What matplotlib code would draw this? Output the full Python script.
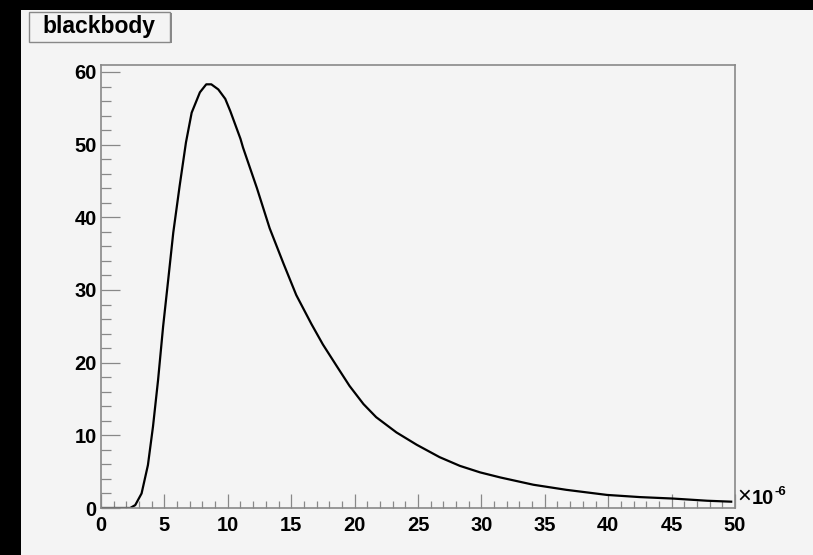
import matplotlib
matplotlib.use("Agg")
import matplotlib.pyplot as plt
from matplotlib.patches import Rectangle
from matplotlib.ticker import MultipleLocator

# curve (x in units of 1e-6)
wavelength = [0, 1, 2, 2.3, 2.7, 3.2, 3.7, 4.1, 4.5, 4.9, 5.3, 5.7, 6.2, 6.7,
              7.15, 7.8, 8.3, 8.7, 9.25, 9.8, 10.2, 11.0, 11.2, 12.3, 13.3,
              14.4, 15.4, 16.6, 17.5, 18.6, 19.6, 20.7, 21.7, 23.3, 24.9,
              26.7, 28.3, 29.9, 31.5, 34.1, 36.7, 39.9, 42.5, 45.1, 47.8, 49.7]
intensity = [0, 0, 0, 0, 0.4, 2.0, 5.9, 11.2, 17.6, 25.0, 31.4, 37.9, 44.3, 50.3,
             54.4, 57.2, 58.3, 58.3, 57.6, 56.3, 54.6, 50.8, 49.6, 44.0, 38.5,
             33.6, 29.3, 25.3, 22.5, 19.5, 16.8, 14.3, 12.5, 10.4, 8.7,
             7.0, 5.8, 4.9, 4.2, 3.2, 2.5, 1.8, 1.5, 1.3, 1.0, 0.87]
x_ticks = [0, 5, 10, 15, 20, 25, 30, 35, 40, 45, 50]
y_ticks = [0, 10, 20, 30, 40, 50, 60]
title = "blackbody"

plt.rcParams['font.family'] = ['Liberation Sans', 'DejaVu Sans']
plt.rcParams['font.weight'] = 'bold'

W, H = 813, 555
canvas_col = '#f4f4f4'
frame_col = '#888888'

fig = plt.figure(figsize=(W / 100, H / 100), dpi=100)
fig.patch.set_facecolor('black')
# gray canvas, black strip on top and left
fig.patches.append(Rectangle((21 / W, 0), 1 - 21 / W, (H - 10) / H,
                             transform=fig.transFigure, facecolor=canvas_col,
                             edgecolor='none', zorder=-5))

ax = fig.add_axes([101 / W, (H - 508) / H, (735 - 101) / W, (508 - 65) / H])
ax.set_facecolor(canvas_col)
ax.plot(wavelength, intensity, color='black', lw=1.6)
ax.set_xlim(0, 50)
ax.set_ylim(0, 60.96)

ax.set_xticks(x_ticks)
ax.set_yticks(y_ticks)
ax.xaxis.set_minor_locator(MultipleLocator(1))
ax.yaxis.set_minor_locator(MultipleLocator(2))
for s in ax.spines.values():
    s.set_color(frame_col)
    s.set_linewidth(1.2)
ax.tick_params(axis='x', which='major', direction='in', length=10, width=0.9,
               color=frame_col, labelsize=14.5, pad=6)
ax.tick_params(axis='x', which='minor', direction='in', length=5, width=0.9,
               color=frame_col)
ax.tick_params(axis='y', which='major', direction='in', length=14, width=0.9,
               color=frame_col, labelsize=14.5, pad=3)
ax.tick_params(axis='y', which='minor', direction='in', length=7, width=0.9,
               color=frame_col)
for lbl in ax.get_xticklabels() + ax.get_yticklabels():
    lbl.set_fontweight('bold')

# exponent label at the end of the x axis
ax.text(1.004, 0.0, "\u00d7", transform=ax.transAxes, fontsize=17,
        ha='left', va='bottom', fontweight='normal')
ax.text(1.0265, 0.0, "10", transform=ax.transAxes, fontsize=14.5,
        ha='left', va='bottom', fontweight='bold')
ax.text(1.0625, 0.022, "-6", transform=ax.transAxes, fontsize=9.5,
        ha='left', va='bottom', fontweight='bold')

# title box
fig.patches.append(Rectangle((31 / W, (H - 43) / H), 141 / W, 30 / H,
                             transform=fig.transFigure, facecolor='#888888',
                             edgecolor='none', zorder=1))
fig.patches.append(Rectangle((29 / W, (H - 42) / H), 141 / W, 30 / H,
                             transform=fig.transFigure, facecolor=canvas_col,
                             edgecolor=frame_col, lw=1, zorder=2))
fig.text(99 / W, (H - 27) / H, title, fontsize=16.5, fontweight='bold',
         ha='center', va='center', zorder=3)

fig.savefig('out.png', dpi=100, facecolor=fig.get_facecolor())
